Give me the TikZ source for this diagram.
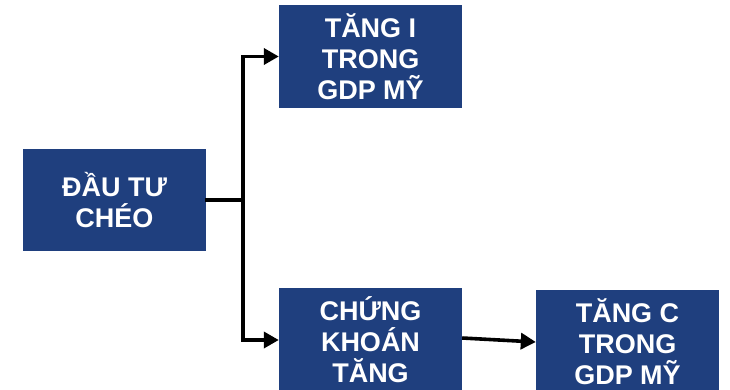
\documentclass[tikz,border=0pt]{standalone}
\usepackage{fontspec}
\setmainfont{Liberation Sans}
\usetikzlibrary{arrows.meta}
\definecolor{boxblue}{RGB}{31,63,126}
\tikzset{
  box/.style={fill=boxblue, text=white, inner sep=0pt, minimum width=183pt,
    align=center, font=\fontsize{27}{31}\selectfont\bfseries},
  conn/.style={line width=3.6pt, -{Triangle[length=15pt,width=16pt]}},
  plain/.style={line width=3.6pt}
}
\begin{document}
\begin{tikzpicture}[x=1pt,y=-1pt]
\useasboundingbox (0,0) rectangle (730,390);
\clip (0,0) rectangle (730,390);
\node[box, minimum height=102pt] (L) at (114.5,200) {ĐẦU TƯ\\CHÉO};
\node[box, minimum height=103pt] (T) at (370.5,56.5) {TĂNG I\\TRONG\\GDP MỸ};
\node[box, minimum height=104pt] (M) at (370.5,340) {CHỨNG\\KHOÁN\\TĂNG};
\node[box, minimum height=104pt] (R) at (627.5,342) {TĂNG C\\TRONG\\GDP MỸ};
\coordinate (J) at (243,200);
\draw[plain] ([xshift=-1pt]L.east) -- ([xshift=1.8pt]J);
\draw[conn] ([yshift=1.8pt]J) |- (T.west);
\draw[conn] ([yshift=-1.8pt]J) |- (M.west);
\draw[conn] ([yshift=2pt]M.east) -- ([yshift=0pt]R.west);
\end{tikzpicture}
\end{document}
